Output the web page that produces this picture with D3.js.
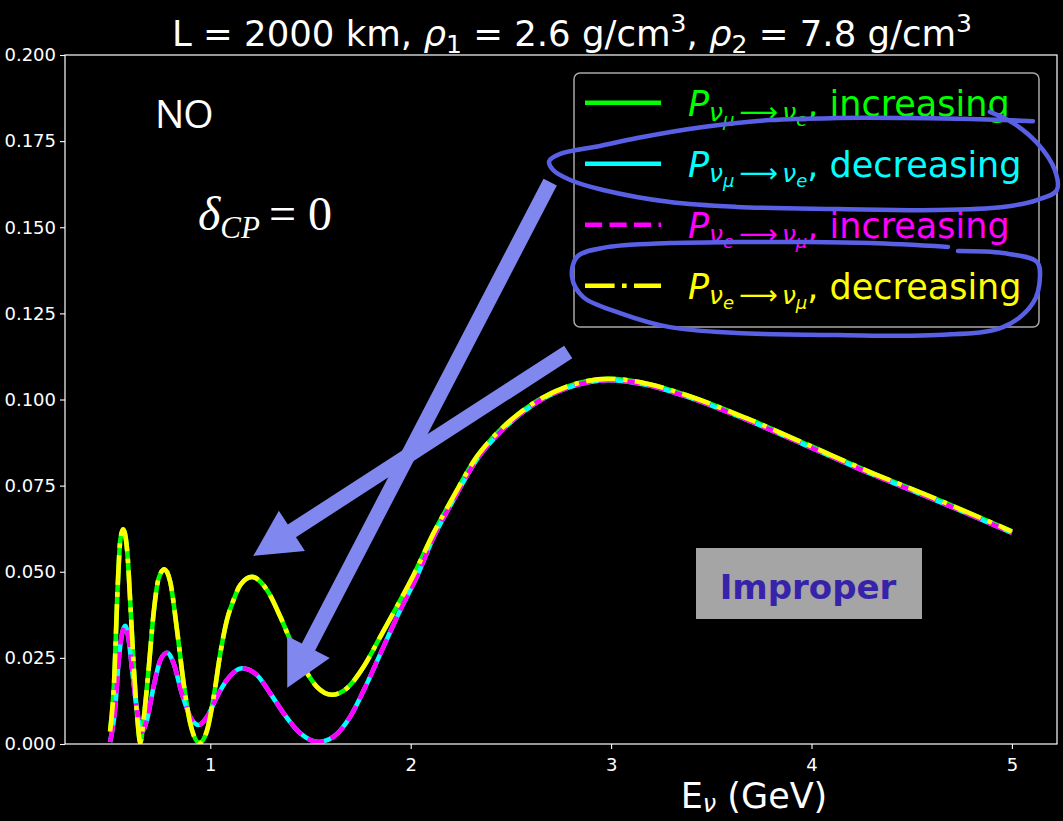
<!DOCTYPE html>
<html>
<head>
<meta charset="utf-8">
<script src="https://cdn.jsdelivr.net/npm/d3@7"></script>
<style>
  body { margin: 0; background: #000; }
  svg { display: block; }
</style>
</head>
<body>
<svg id="chart" width="1063" height="821"></svg>
<script>
// ---- data -------------------------------------------------------------
// Energy samples (GeV) and oscillation probabilities.
// The "strong" profile is shared by P(νμ→νe) increasing and P(νe→νμ) decreasing,
// the "weak" profile by P(νμ→νe) decreasing and P(νe→νμ) increasing.
const energyStrong = [0.50, 0.52, 0.538, 0.551, 0.565, 0.585, 0.601, 0.617, 0.634, 0.651,
  0.667, 0.692, 0.717, 0.742, 0.771, 0.80, 0.834, 0.867, 0.90, 0.945,
  0.984, 1.017, 1.05, 1.083, 1.116, 1.15, 1.208, 1.283, 1.349, 1.399,
  1.465, 1.532, 1.607, 1.682, 1.765, 1.848, 1.931, 2.014, 2.114, 2.213,
  2.33, 2.446, 2.612, 2.779, 2.985, 3.18, 3.373, 3.678, 3.983, 4.289,
  4.594, 5.0];
const probStrong = [0.0036, 0.018, 0.0457, 0.0592, 0.0623, 0.0563, 0.0408, 0.0234, 0.0089, 0.0004,
  0.007, 0.0215, 0.0379, 0.048, 0.0507, 0.0471, 0.0331, 0.0176, 0.006, 0.0003,
  0.004, 0.0137, 0.0263, 0.036, 0.0418, 0.0462, 0.0485, 0.0447, 0.037, 0.0302,
  0.0224, 0.0166, 0.0143, 0.0162, 0.0224, 0.0311, 0.0399, 0.049, 0.0612, 0.0718,
  0.0834, 0.0911, 0.0989, 0.1037, 0.1060, 0.1046, 0.1013, 0.0945, 0.0868, 0.079,
  0.0718, 0.0617];

const energyWeak = [0.50, 0.526, 0.543, 0.56, 0.576, 0.593, 0.61, 0.634, 0.659, 0.684,
  0.717, 0.751, 0.784, 0.817, 0.858, 0.90, 0.942, 0.984, 1.033, 1.083,
  1.158, 1.233, 1.299, 1.366, 1.449, 1.54, 1.615, 1.698, 1.782, 1.864,
  1.948, 2.031, 2.114, 2.213, 2.33, 2.446, 2.612, 2.779, 2.985, 3.18,
  3.373, 3.678, 3.983, 4.289, 4.594, 5.0];
const probWeak = [0.0006, 0.0108, 0.0244, 0.0321, 0.0343, 0.0302, 0.0215, 0.0099, 0.0036, 0.007,
  0.0166, 0.0244, 0.0265, 0.0234, 0.0147, 0.0079, 0.0055, 0.0079, 0.0137, 0.0186,
  0.0220, 0.0200, 0.0147, 0.0089, 0.0031, 0.0006, 0.0021, 0.0079, 0.0176, 0.0282,
  0.0389, 0.0486, 0.0600, 0.0708, 0.0826, 0.0905, 0.0985, 0.1033, 0.1056, 0.1042,
  0.1009, 0.0941, 0.0864, 0.0786, 0.0714, 0.0613];

const xTicks = [1, 2, 3, 4, 5];
const yTicks = [0, 0.025, 0.05, 0.075, 0.1, 0.125, 0.15, 0.175, 0.2];

const seriesNames = ["mu_e_inc", "mu_e_dec", "e_mu_inc", "e_mu_dec"];
const seriesColors = ["#00ff00", "#00ffff", "#ff00ff", "#ffff00"];
const seriesDash = [null, null, "17.1,7.4", "29.6,7.4,4.6,7.4"];
const seriesFrom = ["μ", "μ", "e", "e"];
const seriesTo = ["e", "e", "μ", "μ"];
const seriesTrend = ["increasing", "decreasing", "increasing", "decreasing"];
const seriesProfile = ["strong", "weak", "weak", "strong"];

// hand-drawn emphasis strokes and arrows, in (E, P) coordinates
const loopUpper = [[4.890,0.1835],[5.005,0.1803],[5.125,0.1745],[5.214,0.1666],[5.224,0.1608],
  [5.125,0.1579],[4.955,0.1559],[4.626,0.1550],[4.127,0.1553],[3.628,0.1559],[3.294,0.1573],
  [2.960,0.1608],[2.796,0.1637],[2.711,0.1666],[2.691,0.1692],[2.746,0.1713],[2.945,0.1736],
  [3.130,0.1759],[3.459,0.1791],[3.793,0.1811],[4.127,0.1817],[4.456,0.1817],[4.791,0.1814],[5.105,0.1808]];
const loopLower = [[4.681,0.1443],[4.292,0.1454],[3.958,0.1457],[3.628,0.1457],[3.294,0.1454],
  [2.960,0.1440],[2.830,0.1414],[2.805,0.1356],[2.860,0.1298],[3.045,0.1251],[3.294,0.1210],
  [3.628,0.1193],[4.127,0.1187],[4.626,0.1187],[4.955,0.1210],[5.105,0.1280],[5.140,0.1356],
  [5.125,0.1399],[4.955,0.1425],[4.731,0.1431]];
const arrowTails = [[2.786, 0.1138], [2.696, 0.1631]];
const arrowTips = [[1.2145, 0.0546], [1.384, 0.0163]];

// ---- layout -----------------------------------------------------------
const W = 1063, H = 821;
const plot = { left: 65, right: 1057, top: 55, bottom: 744 };

const svg = d3.select("#chart");
svg.append("rect").attr("width", W).attr("height", H).attr("fill", "#000");

const x = d3.scaleLinear().domain([0.275, 5.225]).range([plot.left, plot.right]);
const y = d3.scaleLinear().domain([0, 0.2]).range([plot.bottom, plot.top]);

svg.append("defs").append("clipPath").attr("id", "plotClip")
  .append("rect")
  .attr("x", plot.left).attr("y", plot.top)
  .attr("width", plot.right - plot.left).attr("height", plot.bottom - plot.top);

// ---- curves -----------------------------------------------------------
const profiles = {
  strong: energyStrong.map((e, i) => [e, probStrong[i]]),
  weak: energyWeak.map((e, i) => [e, probWeak[i]])
};
const line = d3.line()
  .x(d => x(d[0]))
  .y(d => y(d[1]))
  .curve(d3.curveMonotoneX);

const curves = svg.append("g").attr("clip-path", "url(#plotClip)");
seriesNames.forEach((name, i) => {
  curves.append("path")
    .attr("class", "curve " + name)
    .attr("d", line(profiles[seriesProfile[i]]))
    .attr("fill", "none")
    .attr("stroke", seriesColors[i])
    .attr("stroke-width", 4.6)
    .attr("stroke-linejoin", "round")
    .attr("stroke-dasharray", seriesDash[i]);
});

// ---- axes -------------------------------------------------------------
const xAxis = d3.axisBottom(x).tickValues(xTicks).tickFormat(d3.format("d"))
  .tickSize(5).tickPadding(9);
const yAxis = d3.axisLeft(y).tickValues(yTicks).tickFormat(d3.format(".3f"))
  .tickSize(5).tickPadding(4);

const gx = svg.append("g").attr("transform", `translate(0,${plot.bottom})`).call(xAxis);
const gy = svg.append("g").attr("transform", `translate(${plot.left},0)`).call(yAxis);
[gx, gy].forEach(g => {
  g.select(".domain").remove();
  g.selectAll(".tick line").attr("stroke", "#fff").attr("stroke-width", 1.1);
  g.selectAll(".tick text").attr("fill", "#fff")
    .style("font-family", "DejaVu Sans").style("font-size", "18px");
});

svg.append("rect")
  .attr("x", plot.left).attr("y", plot.top)
  .attr("width", plot.right - plot.left).attr("height", plot.bottom - plot.top)
  .attr("fill", "none").attr("stroke", "#fff").attr("stroke-width", 1.2);

// x label
const xl = svg.append("text")
  .attr("x", 754).attr("y", 808)
  .attr("text-anchor", "middle")
  .attr("fill", "#fff")
  .style("font-family", "DejaVu Sans").style("font-size", "35px");
xl.append("tspan").text("E");
xl.append("tspan").attr("dy", 4).style("font-size", "24px").style("font-style", "italic").text("ν");
xl.append("tspan").attr("dy", -4).text(" (GeV)");

// title
const title = svg.append("text")
  .attr("x", 572).attr("y", 46)
  .attr("text-anchor", "middle")
  .attr("fill", "#fff")
  .style("font-family", "DejaVu Sans").style("font-size", "35.5px");
title.append("tspan").text("L = 2000 km, ");
title.append("tspan").style("font-style", "italic").text("ρ");
title.append("tspan").attr("dy", 7).style("font-size", "25px").text("1");
title.append("tspan").attr("dy", -7).text(" = 2.6 g/cm");
title.append("tspan").attr("dy", -14).style("font-size", "25px").text("3");
title.append("tspan").attr("dy", 14).text(", ");
title.append("tspan").style("font-style", "italic").text("ρ");
title.append("tspan").attr("dy", 7).style("font-size", "25px").text("2");
title.append("tspan").attr("dy", -7).text(" = 7.8 g/cm");
title.append("tspan").attr("dy", -14).style("font-size", "25px").text("3");

// ---- legend -----------------------------------------------------------
const legend = svg.append("g").attr("class", "legend");
legend.append("rect")
  .attr("x", 574).attr("y", 73).attr("width", 465).attr("height", 254)
  .attr("rx", 6).attr("ry", 6)
  .attr("fill", "#000").attr("stroke", "#a8a8a8").attr("stroke-width", 1.5);

seriesNames.forEach((name, i) => {
  const cy = 102.7 + i * 61;
  legend.append("line")
    .attr("x1", 585).attr("x2", 661).attr("y1", cy).attr("y2", cy)
    .attr("stroke", seriesColors[i]).attr("stroke-width", 4.6)
    .attr("stroke-dasharray", seriesDash[i]);
  const t = legend.append("text")
    .attr("x", 688).attr("y", cy + 13)
    .attr("fill", seriesColors[i])
    .style("font-family", "DejaVu Sans").style("font-size", "35px");
  t.append("tspan").style("font-style", "italic").text("P");
  t.append("tspan").attr("dy", 5).style("font-size", "25px").style("font-style", "italic").text("ν");
  t.append("tspan").attr("dy", 5).style("font-size", "18px").style("font-style", "italic").text(seriesFrom[i]);
  t.append("tspan").attr("dy", -5).attr("dx", 5).style("font-size", "27px").text("\u27F6");
  t.append("tspan").attr("dx", 4).style("font-size", "25px").style("font-style", "italic").text("ν");
  t.append("tspan").attr("dy", 5).style("font-size", "18px").style("font-style", "italic").text(seriesTo[i]);
  t.append("tspan").attr("dy", -10).text(", " + seriesTrend[i]);
});

// ---- annotations --------------------------------------------------------
svg.append("text")
  .attr("x", 155).attr("y", 128)
  .attr("fill", "#fff")
  .style("font-family", "Open Sans").style("font-size", "39px")
  .style("letter-spacing", "-1px")
  .text("NO");

const delta = svg.append("text")
  .attr("x", 198).attr("y", 230)
  .attr("fill", "#fff")
  .style("font-family", "Liberation Serif").style("font-size", "48px");
delta.append("tspan").style("font-style", "italic").text("δ");
delta.append("tspan").attr("dy", 8).style("font-size", "31px").style("font-style", "italic").text("CP");
delta.append("tspan").attr("dy", -8).attr("dx", 9).text("=");
delta.append("tspan").attr("dx", 12).text("0");

svg.append("rect")
  .attr("x", 696).attr("y", 548).attr("width", 226).attr("height", 71)
  .attr("fill", "#a5a5a5");
svg.append("text")
  .attr("x", 808).attr("y", 599)
  .attr("text-anchor", "middle")
  .attr("fill", "#3723aa")
  .style("font-family", "DejaVu Sans").style("font-weight", "bold").style("font-size", "34px")
  .text("Improper");

// emphasis loops around the legend rows
const loopLine = d3.line().x(d => x(d[0])).y(d => y(d[1])).curve(d3.curveCatmullRom.alpha(0.5));
[loopUpper, loopLower].forEach(pts => {
  svg.append("path")
    .attr("d", loopLine(pts))
    .attr("fill", "none")
    .attr("stroke", "#5a60e6")
    .attr("stroke-width", 4.5)
    .attr("stroke-linecap", "round")
    .attr("stroke-linejoin", "round");
});

// block arrows pointing at the curves
function arrowPolygon(tail, tip, shaftHalf, headLen, headHalf) {
  const x0 = x(tail[0]), y0 = y(tail[1]), x1 = x(tip[0]), y1 = y(tip[1]);
  const dx = x1 - x0, dy = y1 - y0, len = Math.hypot(dx, dy);
  const ux = dx / len, uy = dy / len, px = -uy, py = ux;
  const bx = x1 - ux * headLen, by = y1 - uy * headLen;
  return [
    [x0 + px * shaftHalf, y0 + py * shaftHalf],
    [bx + px * shaftHalf, by + py * shaftHalf],
    [bx + px * headHalf, by + py * headHalf],
    [x1, y1],
    [bx - px * headHalf, by - py * headHalf],
    [bx - px * shaftHalf, by - py * shaftHalf],
    [x0 - px * shaftHalf, y0 - py * shaftHalf]
  ];
}
arrowTails.forEach((tail, i) => {
  const pts = arrowPolygon(tail, arrowTips[i], 7.5, 46, 24);
  svg.append("path")
    .attr("d", "M" + pts.map(p => p.join(",")).join("L") + "Z")
    .attr("fill", "#8088f0");
});
</script>
</body>
</html>
